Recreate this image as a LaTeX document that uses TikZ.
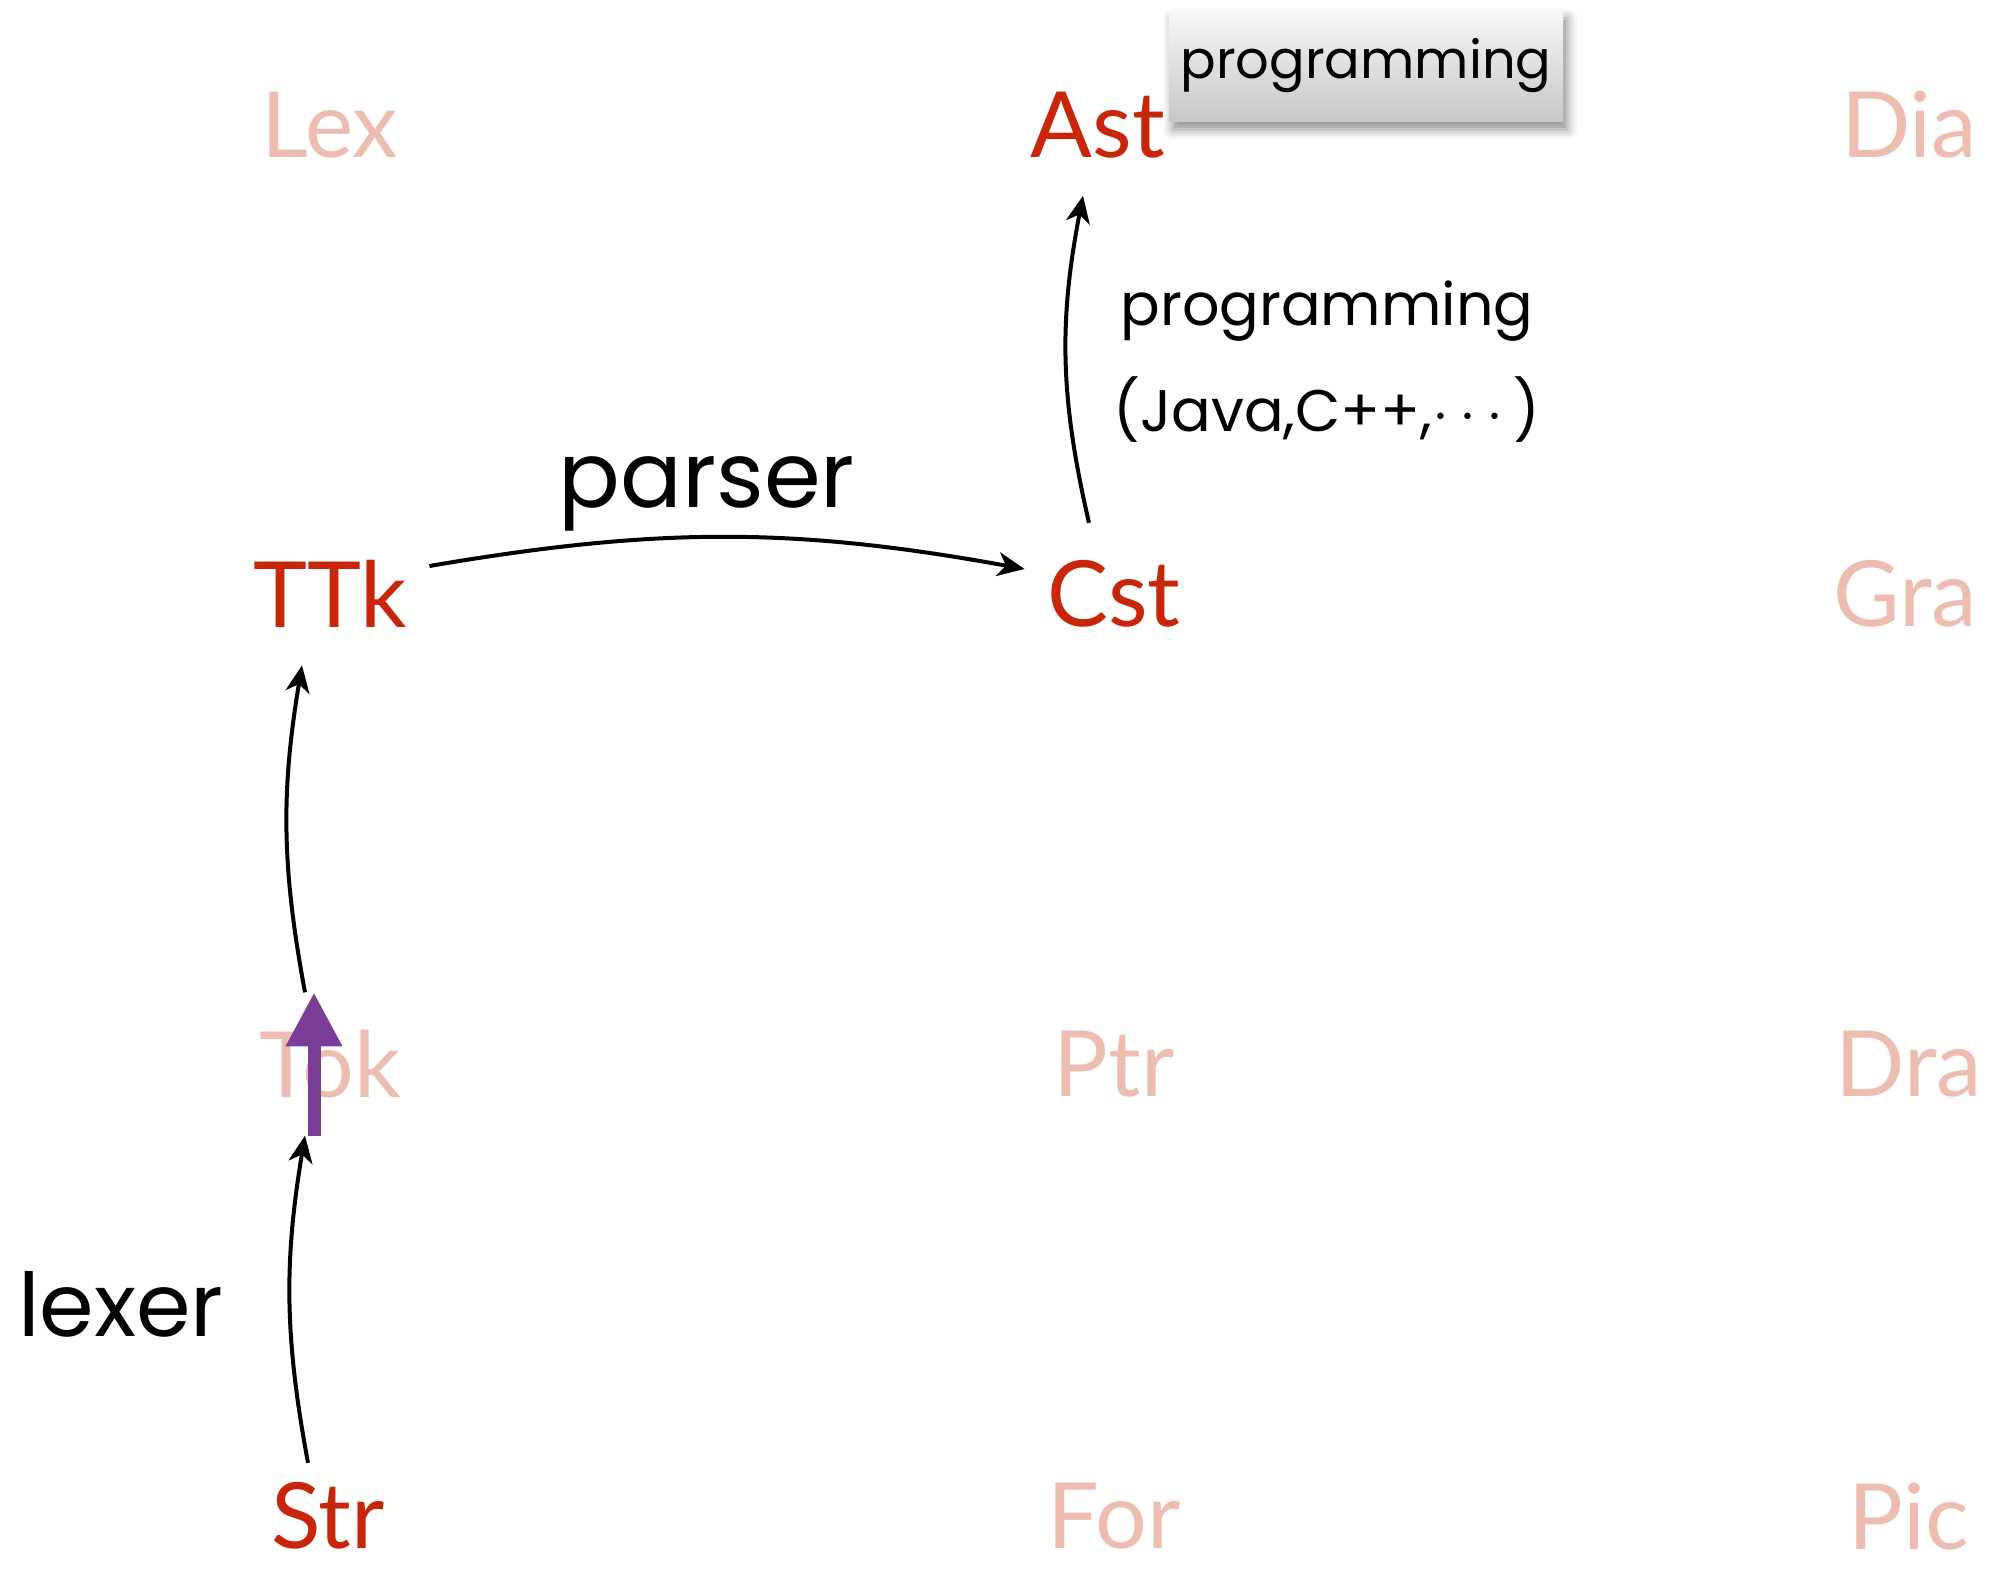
\documentclass[tikz,border=0pt]{standalone}
\usepackage{fontspec}
\usepackage{amsmath}
\usepackage{tikz}
\usetikzlibrary{arrows.meta,shadows.blur}
\usetikzlibrary{positioning}

\newfontfamily\catfont{Lato}
\newfontfamily\handfont{Poppins}
\definecolor{catred}{HTML}{C8260A}
\definecolor{catpale}{HTML}{EDBDB2}
\definecolor{liftpurple}{HTML}{7A3D98}

\begin{document}
\begin{tikzpicture}[
	cat/.style={font=\catfont\fontsize{26pt}{30pt}\selectfont, inner xsep=0.22cm, inner ysep=0.37cm},
	on/.style={cat, text=catred},
	off/.style={cat, text=catpale},
	low/.style={inner ysep=0.05cm},
	hand/.style={font=\handfont\fontsize{#1}{1.2\dimexpr#1\relax}\selectfont},
	arr/.style={line width=0.04cm, -{Stealth[length=0.27cm,width=0.24cm,inset=0.08cm]}},
	lift/.style={line width=0.13cm, liftpurple, -{Triangle[length=0.54cm,width=0.53cm]}},
	tag/.style={hand=15pt, top color=black!3, bottom color=black!22, minimum width=3.86cm, minimum height=1.11cm,
		blur shadow={shadow xshift=0.4mm, shadow yshift=-0.8mm, shadow blur radius=1mm, shadow opacity=45}}
	]
	\useasboundingbox (0,0) rectangle (19.91,15.72);

	% grid of categories
	\node[off] (lex) at (3.30,14.47) {Lex};
	\node[on]  (ast) at (10.98,14.47) {Ast};
	\node[off] (dia) at (19.09,14.47) {Dia};
	\node[on]  (ttk) at (3.30,9.78) {TTk};
	\node[on]  (cst) at (11.14,9.78) {Cst};
	\node[off] (gra) at (19.05,9.78) {Gra};
	\node[off] (tok) at (3.30,5.08) {Tok};
	\node[off] (ptr) at (11.14,5.08) {Ptr};
	\node[off] (dra) at (19.09,5.08) {Dra};
	\node[on,low]  (str) at (3.28,0.56) {Str};
	\node[off,low] (for) at (11.14,0.56) {For};
	\node[off,low] (pic) at (19.09,0.56) {Pic};

	% arrows
	\draw[arr] ([xshift=-2mm,yshift=1.4mm]str.north) to[bend left=10] ([xshift=-2.5mm]tok.south);
	\draw[lift] ([xshift=-1.6mm]tok.south) -- ([xshift=-1.6mm]tok.north);
	\draw[arr] ([xshift=-2.5mm]tok.north) to[bend left=10] ([xshift=-2.8mm]ttk.south);
	\draw[arr] ([yshift=2.8mm]ttk.east) to[bend left=10] ([yshift=2.5mm]cst.west);
	\draw[arr] ([xshift=-2.5mm]cst.north) to[bend left=12] ([xshift=-1.5mm]ast.south);

	% labels
	\node[hand=25pt] (lexer) at (1.21,2.68) {lexer};
	\node[hand=26pt] (parser) at (7.07,10.78) {parser};
	\node[hand=16.7pt] (prog) at (13.27,12.61) {programming};
	\node[hand=16.7pt] (langs) at (13.27,11.62) {(Java,C++,$\cdots$)};
	\node[tag] (box) at (13.66,15.06) {programming};
\end{tikzpicture}
\end{document}
